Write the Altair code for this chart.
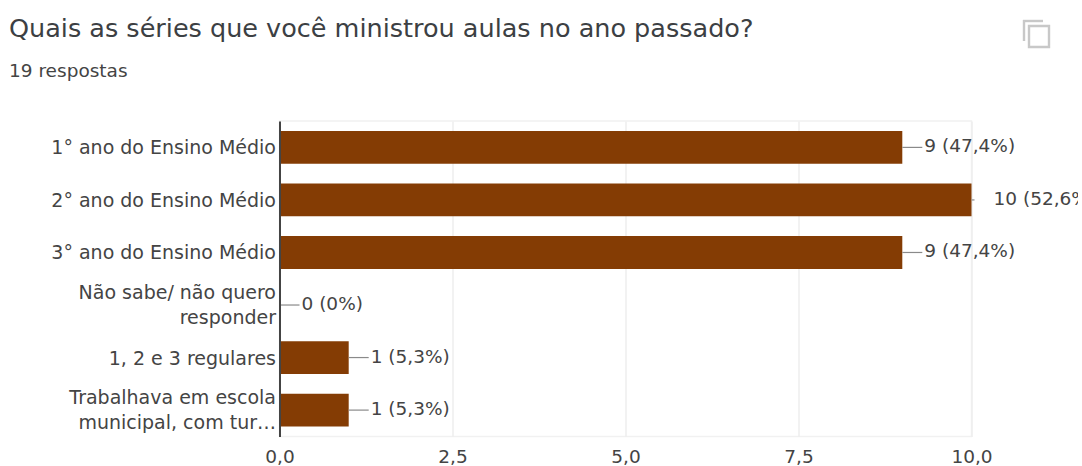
import altair as alt
import pandas as pd

# Survey answers, in display order; "|" marks a line break in the axis label
categories = [
    "1° ano do Ensino Médio",
    "2° ano do Ensino Médio",
    "3° ano do Ensino Médio",
    "Não sabe/ não quero|responder",
    "1, 2 e 3 regulares",
    "Trabalhava em escola|municipal, com tur…",
]
counts = [9, 10, 9, 0, 1, 1]
shares = ["47,4%", "52,6%", "47,4%", "0%", "5,3%", "5,3%"]
x_ticks = [0, 2.5, 5, 7.5, 10]

TITLE = "Quais as séries que você ministrou aulas no ano passado?"
SUBTITLE = "19 respostas"

PLOT_W, PLOT_H = 692, 315.5
LEFT, TOP = 279.5, 121
FONT = "DejaVu Sans"
LABEL_SIZE = 18.5
CATEGORY_SIZE = 19
TEXT = "#444444"

df = pd.DataFrame({"categoria": categories, "n": counts, "pct": shares})
df["rotulo"] = [f"{n} ({p})" for n, p in zip(counts, shares)]

x_scale = alt.Scale(domain=[0, 10], nice=False, clamp=False)
y_scale = alt.Scale(domain=categories, paddingInner=0.375, paddingOuter=0.19)

base = alt.Chart(df).encode(
    y=alt.Y(
        "categoria:N",
        scale=y_scale,
        sort=categories,
        title=None,
        axis=alt.Axis(
            labelExpr="split(datum.label, '|')",
            labelFont=FONT,
            labelFontSize=CATEGORY_SIZE,
            labelColor=TEXT,
            labelLineHeight=25,
            labelPadding=4,
            labelLimit=270,
            labelOffset={"condition": {"test": "indexof(datum.label, '|') >= 0", "value": -12}, "value": 1},
            ticks=False,
            domainColor="#444444",
            domainWidth=2,
            grid=False,
            zindex=2,
        ),
    ),
)

bars = base.mark_bar(color="#843c04").encode(
    x=alt.X(
        "n:Q",
        scale=x_scale,
        title=None,
        axis=alt.Axis(
            values=x_ticks,
            format=".1f",
            labelExpr="replace(datum.label, '.', ',')",
            labelFont=FONT,
            labelFontSize=LABEL_SIZE,
            labelColor=TEXT,
            labelPadding=11,
            labelFlush=False,
            ticks=False,
            domain=False,
            grid=True,
            gridColor="#eeeeee",
            gridWidth=1.5,
        ),
    )
)

# Leader lines between bar ends and their value labels
leaders = (
    base.transform_filter("datum.n < 10")
    .mark_rule(color="#8a8a8a", strokeWidth=1.2, x2Offset=20)
    .encode(x=alt.X("n:Q", scale=x_scale), x2=alt.X2("n:Q"))
)
short_leader = (
    base.transform_filter("datum.n >= 10")
    .mark_rule(color="#8a8a8a", strokeWidth=1.2, x2Offset=3)
    .encode(x=alt.X("n:Q", scale=x_scale), x2=alt.X2("n:Q"))
)

labels = base.mark_text(
    align="left",
    baseline="middle",
    dx=22,
    dy=-1,
    font=FONT,
    fontSize=LABEL_SIZE,
    color=TEXT,
).encode(x=alt.X("n:Q", scale=x_scale), text="rotulo:N")

# Heading block above the plot
heading = alt.Chart(df.head(1)).mark_text(
    align="left", baseline="alphabetic", font=FONT, fontSize=25.5, color="#3c4043"
).encode(x=alt.value(9 - LEFT), y=alt.value(37 - TOP), text=alt.value(TITLE))
subheading = alt.Chart(df.head(1)).mark_text(
    align="left", baseline="alphabetic", font=FONT, fontSize=LABEL_SIZE, color=TEXT
).encode(x=alt.value(9 - LEFT), y=alt.value(77 - TOP), text=alt.value(SUBTITLE))

# Copy icon in the top-right corner of the card
icon_box = alt.Chart(df.head(1)).mark_rect(
    fill=None, stroke="#c8c8c8", strokeWidth=2.4
).encode(
    x=alt.value(1029 - LEFT), x2=alt.value(1049 - LEFT),
    y=alt.value(26 - TOP), y2=alt.value(47 - TOP),
)
icon_top = alt.Chart(df.head(1)).mark_rule(color="#c8c8c8", strokeWidth=2.4).encode(
    x=alt.value(1023 - LEFT), x2=alt.value(1043 - LEFT), y=alt.value(21 - TOP)
)
icon_side = alt.Chart(df.head(1)).mark_rule(color="#c8c8c8", strokeWidth=2.4).encode(
    x=alt.value(1024 - LEFT), y=alt.value(20 - TOP), y2=alt.value(41 - TOP)
)

chart = (
    alt.layer(bars, leaders, short_leader, labels, heading, subheading, icon_box, icon_top, icon_side)
    .properties(
        width=PLOT_W,
        height=PLOT_H,
        autosize=alt.AutoSizeParams(type="none"),
        padding={"left": LEFT, "top": TOP, "right": 106.5, "bottom": 29.5},
        background="white",
    )
    .configure_view(stroke="#f1f1f1", strokeWidth=1.5)
)

chart.save("out.html", embed_options={"renderer": "svg", "actions": False})
